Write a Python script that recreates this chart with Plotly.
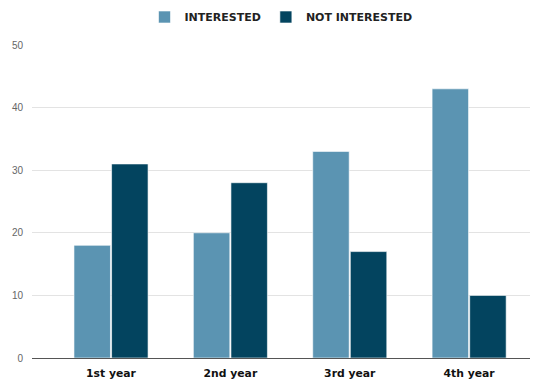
import plotly.graph_objects as go

years = ["1st year", "2nd year", "3rd year", "4th year"]
interested = [18, 20, 33, 43]
not_interested = [31, 28, 17, 10]
y_ticks = [0, 10, 20, 30, 40, 50]

bold_font = "DejaVu Sans, Verdana, sans-serif"

fig = go.Figure()
fig.add_bar(x=years, y=interested, name="<b>INTERESTED</b>",
            marker=dict(color="#5b94b2", line=dict(color="#ffffff", width=0.6)))
fig.add_bar(x=years, y=not_interested, name="<b>NOT INTERESTED</b>",
            marker=dict(color="#03445f", line=dict(color="#ffffff", width=0.6)))

fig.update_layout(
    width=538, height=381,
    margin=dict(l=32, r=8, t=45, b=23),
    paper_bgcolor="white", plot_bgcolor="white",
    barmode="group", bargap=0.37, bargroupgap=0.03,
    font=dict(family="Liberation Sans, Arial, sans-serif"),
    showlegend=True,
    legend=dict(orientation="h", x=0.5, xanchor="center", y=1 - 17 / 381,
                yanchor="middle", yref="container",
                font=dict(size=11, color="#222222", family=bold_font),
                itemwidth=30, traceorder="normal"),
    xaxis=dict(range=[-0.662, 3.51], showgrid=False, ticks="", showline=False,
               automargin=False,
               tickfont=dict(size=10.8, color="#111111", family=bold_font),
               ticklabelstandoff=7, tickprefix="<b>", ticksuffix="</b>"),
    yaxis=dict(range=[0, 50], tickvals=y_ticks, showgrid=True, gridcolor="#e3e3e3",
               automargin=False,
               gridwidth=1, zeroline=True, zerolinecolor="#555555", zerolinewidth=1,
               tickfont=dict(size=10, color="#666666"), ticks="", ticklabelstandoff=8),
)

fig.write_html("out.html")
